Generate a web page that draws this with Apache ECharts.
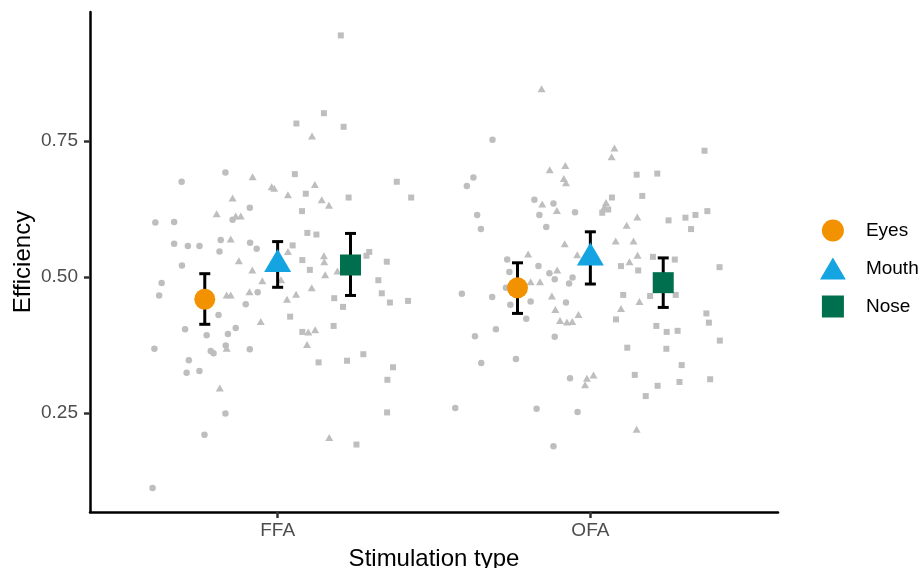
<!DOCTYPE html>
<html>
<head>
<meta charset="utf-8">
<script src="https://cdn.jsdelivr.net/npm/echarts@6/dist/echarts.min.js"></script>
<style>
html,body{margin:0;padding:0;background:#fff;}
#chart{width:922px;height:568px;}
</style>
</head>
<body>
<div id="chart"></div>
<script>
// ---- data ----
const categories = ['FFA', 'OFA'];
const faceParts = ['Eyes', 'Mouth', 'Nose'];
const yTicks = [0.25, 0.5, 0.75];

// individual observations: [x (1 = FFA, 2 = OFA, jittered), efficiency]
const ffaEyes = [[0.833,0.692],[0.693,0.675],[0.911,0.627],[0.856,0.605],[0.609,0.600],[0.669,0.601],[0.818,0.568],[0.669,0.561],[0.713,0.557],[0.750,0.557],[0.912,0.563],[0.933,0.552],[0.814,0.547],[0.694,0.521],[0.629,0.489],[0.936,0.472],[0.621,0.466],[0.898,0.450],[0.811,0.430],[0.704,0.404],[0.866,0.406],[0.773,0.393],[0.841,0.395],[0.606,0.368],[0.834,0.374],[0.786,0.364],[0.795,0.360],[0.911,0.367],[0.716,0.347],[0.709,0.324],[0.750,0.327],[0.833,0.249],[0.766,0.210],[0.600,0.112]];
const ffaMouth = [[1.110,0.759],[0.920,0.684],[0.981,0.666],[0.989,0.663],[1.119,0.670],[1.033,0.651],[0.856,0.645],[1.141,0.642],[1.164,0.632],[0.805,0.616],[0.866,0.612],[0.882,0.612],[0.850,0.570],[1.033,0.547],[1.148,0.539],[1.149,0.528],[0.876,0.530],[0.919,0.513],[1.152,0.504],[1.191,0.511],[0.951,0.493],[1.011,0.495],[0.837,0.467],[0.850,0.467],[0.910,0.473],[1.109,0.480],[1.059,0.468],[1.030,0.459],[0.946,0.418],[1.098,0.399],[1.120,0.403],[1.094,0.376],[0.837,0.369],[0.815,0.296],[1.165,0.205]];
const ffaNose = [[1.202,0.944],[1.148,0.801],[1.060,0.782],[1.211,0.776],[1.055,0.689],[1.381,0.675],[1.090,0.653],[1.227,0.646],[1.427,0.646],[1.078,0.621],[1.095,0.581],[1.124,0.578],[1.048,0.558],[1.293,0.546],[1.284,0.539],[1.079,0.531],[1.349,0.528],[1.103,0.513],[1.322,0.494],[1.333,0.470],[1.181,0.461],[1.359,0.453],[1.417,0.456],[1.209,0.445],[1.040,0.427],[1.179,0.410],[1.079,0.399],[1.131,0.343],[1.222,0.346],[1.274,0.358],[1.369,0.334],[1.351,0.311],[1.350,0.251],[1.252,0.192]];
const ofaEyes = [[1.687,0.752],[1.626,0.683],[1.605,0.667],[1.821,0.642],[1.882,0.635],[1.837,0.614],[1.951,0.619],[1.638,0.614],[1.650,0.588],[1.859,0.592],[1.734,0.532],[1.834,0.520],[1.741,0.509],[1.869,0.507],[1.886,0.496],[1.943,0.499],[1.932,0.488],[1.589,0.469],[1.686,0.463],[1.730,0.480],[1.744,0.449],[1.809,0.455],[1.922,0.453],[1.795,0.423],[1.698,0.404],[1.631,0.391],[1.886,0.390],[1.651,0.342],[1.762,0.349],[1.935,0.314],[1.568,0.259],[1.828,0.258],[1.959,0.252],[1.882,0.189]];
const ofaMouth = [[1.844,0.846],[2.077,0.737],[2.068,0.721],[1.870,0.697],[1.920,0.705],[1.915,0.681],[1.922,0.673],[1.846,0.634],[1.893,0.622],[2.050,0.637],[2.045,0.629],[2.150,0.610],[2.116,0.595],[2.081,0.566],[2.138,0.566],[1.918,0.561],[1.801,0.542],[1.958,0.541],[2.151,0.540],[2.125,0.528],[1.894,0.513],[1.809,0.491],[1.839,0.491],[1.877,0.465],[1.888,0.440],[1.962,0.431],[1.903,0.420],[1.925,0.417],[1.942,0.418],[2.098,0.442],[2.157,0.455],[1.989,0.314],[2.010,0.320],[1.983,0.302],[2.148,0.220]];
const ofaNose = [[2.365,0.732],[2.148,0.688],[2.214,0.690],[2.069,0.646],[2.166,0.649],[2.057,0.624],[2.038,0.618],[2.250,0.604],[2.304,0.609],[2.336,0.614],[2.374,0.621],[2.322,0.588],[2.200,0.537],[2.270,0.532],[2.098,0.520],[2.413,0.518],[2.153,0.512],[2.105,0.467],[2.191,0.465],[2.273,0.467],[2.082,0.422],[2.371,0.433],[2.379,0.416],[2.211,0.410],[2.244,0.399],[2.279,0.401],[2.414,0.383],[2.118,0.370],[2.243,0.368],[2.292,0.338],[2.142,0.320],[2.215,0.300],[2.285,0.307],[2.383,0.312],[2.177,0.281]];

// group means and error bar bounds, per stimulation type [FFA, OFA]
const eyesMean  = [0.459, 0.480];
const eyesLow   = [0.413, 0.433];
const eyesHigh  = [0.506, 0.526];
const mouthMean = [0.523, 0.535];
const mouthLow  = [0.481, 0.487];
const mouthHigh = [0.565, 0.583];
const noseMean  = [0.522, 0.4895];
const noseLow   = [0.466, 0.444];
const noseHigh  = [0.580, 0.535];

// ---- styling / layout ----
const FONT = 'Liberation Sans, Arial, sans-serif';
const DODGE = 0.233;
const colors = {Eyes: '#F39200', Mouth: '#13A4E1', Nose: '#006F4E'};
const grey = '#BEBEBE';

const means = {
  Eyes:  {m: eyesMean,  lo: eyesLow,  hi: eyesHigh,  off: -DODGE},
  Mouth: {m: mouthMean, lo: mouthLow, hi: mouthHigh, off: 0},
  Nose:  {m: noseMean,  lo: noseLow,  hi: noseHigh,  off: DODGE}
};

function renderErr(params, api) {
  const x = api.value(0), lo = api.value(1), hi = api.value(2);
  const p1 = api.coord([x, lo]);
  const p2 = api.coord([x, hi]);
  const hw = 5.5;
  const style = {stroke: '#000', lineWidth: 3, lineCap: 'butt'};
  return {
    type: 'group',
    children: [
      {type: 'line', shape: {x1: p1[0], y1: p1[1], x2: p2[0], y2: p2[1]}, style},
      {type: 'line', shape: {x1: p1[0] - hw, y1: p1[1], x2: p1[0] + hw, y2: p1[1]}, style},
      {type: 'line', shape: {x1: p2[0] - hw, y1: p2[1], x2: p2[0] + hw, y2: p2[1]}, style}
    ]
  };
}

const series = [];
// raw points
const rawGroups = [
  {name: 'rawEyes',  data: ffaEyes.concat(ofaEyes),   symbol: 'circle',   size: 6.5},
  {name: 'rawMouth', data: ffaMouth.concat(ofaMouth), symbol: 'triangle', size: [8, 7]},
  {name: 'rawNose',  data: ffaNose.concat(ofaNose),   symbol: 'rect',     size: 6}
];
rawGroups.forEach(g => {
  series.push({
    type: 'scatter', name: g.name, data: g.data, symbol: g.symbol, symbolSize: g.size,
    itemStyle: {color: grey, opacity: 1}, z: 1, silent: true, animation: false
  });
});
// error bars
faceParts.forEach(p => {
  const d = categories.map((c, i) => [i + 1 + means[p].off, means[p].lo[i], means[p].hi[i]]);
  series.push({
    type: 'custom', name: p + ' SE', data: d, renderItem: renderErr,
    encode: {x: 0, y: [1, 2]}, z: 2, silent: true, animation: false
  });
});
// mean markers
const meanSymbols = {
  Eyes:  {symbol: 'circle',   size: 21, offset: [0, 0]},
  Mouth: {symbol: 'triangle', size: [27, 23], offset: [0, -4]},
  Nose:  {symbol: 'rect',     size: 21, offset: [0, 0]}
};
faceParts.forEach(p => {
  const d = categories.map((c, i) => [i + 1 + means[p].off, means[p].m[i]]);
  series.push({
    type: 'scatter', name: p, data: d,
    symbol: meanSymbols[p].symbol, symbolSize: meanSymbols[p].size, symbolOffset: meanSymbols[p].offset,
    itemStyle: {color: colors[p], opacity: 1}, z: 3, animation: false
  });
});

const chart = echarts.init(document.getElementById('chart'), null, {renderer: 'canvas'});
chart.setOption({
  backgroundColor: '#fff',
  animation: false,
  textStyle: {fontFamily: FONT},
  grid: {left: 90, right: 144, top: 12, bottom: 56, containLabel: false, outerBoundsMode: 'none'},
  legend: {
    orient: 'vertical',
    left: 820, top: 219.5, padding: 0,
    itemWidth: 56, itemHeight: 22, itemGap: 16,
    selectedMode: false,
    textStyle: {fontFamily: FONT, fontSize: 19, color: '#000'},
    data: [
      {name: 'Eyes',  icon: 'circle', itemStyle: {color: colors.Eyes}},
      {name: 'Mouth', icon: 'path://M13.5,0L27,23L0,23Z', itemStyle: {color: colors.Mouth}},
      {name: 'Nose',  icon: 'path://M0,0H21V21H0Z', itemStyle: {color: colors.Nose}}
    ]
  },
  xAxis: {
    type: 'value', min: 0.4, max: 2.6,
    name: 'Stimulation type', nameLocation: 'middle', nameGap: 35,
    nameTextStyle: {fontFamily: FONT, fontSize: 24, color: '#000'},
    axisLine: {show: true, onZero: false, lineStyle: {color: '#000', width: 2.5}},
    axisTick: {show: true, customValues: [1, 2], length: 6, lineStyle: {color: '#333', width: 2.5}},
    axisLabel: {
      show: true, customValues: [1, 2], margin: 9,
      formatter: v => categories[Math.round(v) - 1] || '',
      fontFamily: FONT, fontSize: 19, color: '#4D4D4D'
    },
    splitLine: {show: false}
  },
  yAxis: {
    type: 'value', min: 0.068, max: 0.987,
    name: 'Efficiency', nameLocation: 'middle', nameGap: 55, nameRotate: 90,
    nameMoveOverlap: false,
    nameTextStyle: {fontFamily: FONT, fontSize: 24, color: '#000'},
    axisLine: {show: true, onZero: false, lineStyle: {color: '#000', width: 2.5}},
    axisTick: {show: true, customValues: yTicks, length: 6, lineStyle: {color: '#333', width: 2.5}},
    axisLabel: {
      show: true, customValues: yTicks, margin: 12,
      formatter: v => v.toFixed(2),
      fontFamily: FONT, fontSize: 19, color: '#4D4D4D'
    },
    splitLine: {show: false}
  },
  series: series
});
</script>
</body>
</html>
